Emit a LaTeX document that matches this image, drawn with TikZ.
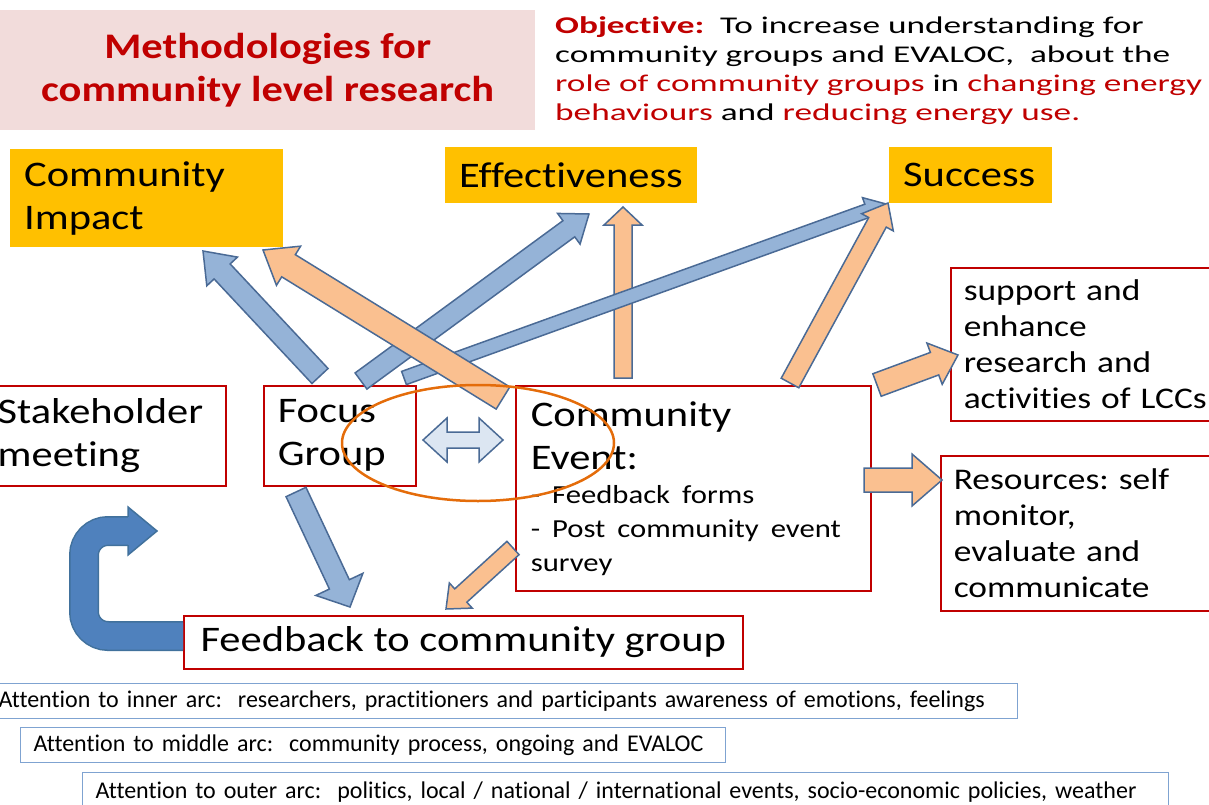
\documentclass[tikz,border=0pt]{standalone}
\usepackage{fontspec}
\setmainfont{Carlito}[FakeStretch=1.18, Ligatures=NoCommon]
\newfontfamily\objfont{Carlito}[FakeStretch=1.47, Ligatures=NoCommon]
\newfontfamily\notefont{Carlito}[Ligatures=NoCommon]
\usetikzlibrary{calc}
\definecolor{darkred}{HTML}{C00000}
\definecolor{titlepink}{HTML}{F2DCDB}
\definecolor{gold}{HTML}{FFC000}
\definecolor{arrowblue}{HTML}{95B3D7}
\definecolor{arroworange}{HTML}{FAC090}
\definecolor{arrowline}{HTML}{4A6A95}
\definecolor{paleblue}{HTML}{DCE6F2}
\definecolor{loopblue}{HTML}{4F81BD}
\definecolor{loopline}{HTML}{41719C}
\definecolor{ringorange}{HTML}{E46C0A}
\definecolor{noteblue}{HTML}{7FA3D1}
\newcommand{\blockarrow}[6]{%
  \path ($(#3)!#6!(#2)$) coordinate (neck);
  \draw[#1] ($(#2)!#4!90:(#3)$) -- ($(neck)!#4!90:(#3)$) -- ($(neck)!#5!90:(#3)$) -- (#3)
    -- ($(neck)!#5!-90:(#3)$) -- ($(neck)!#4!-90:(#3)$) -- ($(#2)!#4!-90:(#3)$) -- cycle;}
\frenchspacing
\begin{document}
\begin{tikzpicture}[x=1pt, y=-1pt,
    bluearrow/.style={fill=arrowblue, draw=arrowline, line width=1.5pt},
    orangearrow/.style={fill=arroworange, draw=arrowline, line width=1.5pt}]
\useasboundingbox (0,0) rectangle (1209,805);
\node[fill=titlepink, anchor=north west, minimum width=535pt, minimum height=120pt, align=center,
    text=darkred, font=\bfseries\fontsize{36}{43}\selectfont] (title) at (0,10) {Methodologies for\\community level research};
\node[anchor=north west, align=left, inner sep=0pt, font=\objfont\fontsize{24}{29}\selectfont] (obj) at (555,16)
    {\textcolor{darkred}{\bfseries Objective:}\ \ To increase understanding for\\
     community groups and EVALOC,\ \ about the\\
     \textcolor{darkred}{role of community groups} in \textcolor{darkred}{changing energy}\\
     \textcolor{darkred}{behaviours} and \textcolor{darkred}{reducing energy use.}};
\begin{scope}[every node/.style={fill=gold, anchor=north west, align=left, inner xsep=14pt, font=\fontsize{36}{43}\selectfont}]
    \node[minimum width=273pt, minimum height=98pt, text width=245pt] (ci) at (10,149) {Community\\Impact};
    \node[minimum width=252pt, minimum height=56pt, text width=224pt] (eff) at (445,147) {Effectiveness};
    \node[minimum width=163pt, minimum height=56pt, text width=135pt] (suc) at (889,147) {Success};
\end{scope}
\begin{scope}[every node/.style={draw=darkred, line width=1.5pt, anchor=north west, align=left, font=\fontsize{36}{43}\selectfont}]
    \node[minimum width=237pt, minimum height=100pt, inner xsep=9pt, text width=219pt] (sh) at (-12,385) {Stakeholder\\meeting};
    \node[minimum width=152pt, minimum height=100pt, inner xsep=14pt, text width=124pt] (fg) at (263,385) {Focus\\Group};
    \node[minimum width=355pt, minimum height=205pt, inner xsep=15pt, text width=325pt] (ce) at (515,385)
        {Community\par Event:\par\fontsize{26}{34}\selectfont - Feedback forms\par - Post community event\par survey\par};
    \node[minimum width=270pt, minimum height=153pt, inner xsep=13pt, text width=244pt, font=\fontsize{30}{36}\selectfont] (sup) at (950,267)
        {support and\\enhance\\research and\\activities of LCCs};
    \node[minimum width=280pt, minimum height=155pt, inner xsep=13pt, text width=254pt, font=\fontsize{30}{36}\selectfont] (res) at (940,455)
        {Resources: self\\monitor,\\evaluate and\\communicate};
    \node[minimum width=559pt, minimum height=53pt, align=center] (fb) at (183,615) {Feedback to community group};
\end{scope}
\begin{scope}[every node/.style={draw=noteblue, line width=1pt, anchor=north west, align=left, minimum height=35pt, font=\notefont\fontsize{24}{28}\selectfont}]
    \node[inner xsep=8pt, text width=1011pt] (n1) at (-10,683) {Attention to inner arc:\ \ researchers, practitioners and participants awareness of emotions, feelings};
    \node[inner xsep=13pt, text width=679pt] (n2) at (20,727) {Attention to middle arc:\ \ community process, ongoing and EVALOC};
    \node[inner xsep=13pt, text width=1060pt, minimum height=40pt] (n3) at (82,772) {Attention to outer arc:\ \ politics, local / national / international events, socio-economic policies, weather};
\end{scope}
\coordinate (fg-ci-s) at (320,376);  \coordinate (fg-ci-e) at (203,251);
\coordinate (fg-eff-s) at (361,381); \coordinate (fg-eff-e) at (589,214);
\coordinate (fg-suc-s) at (404,378); \coordinate (fg-suc-e) at (886,204);
\coordinate (ce-ci-s) at (503,398);  \coordinate (ce-ci-e) at (263,250);
\coordinate (ce-eff-s) at (623,378); \coordinate (ce-eff-e) at (623,207);
\coordinate (ce-suc-s) at (790,383); \coordinate (ce-suc-e) at (888,203);
\coordinate (ce-sup-s) at (877,385); \coordinate (ce-sup-e) at (958,355);
\coordinate (ce-res-s) at (864,480); \coordinate (ce-res-e) at (942,480);
\coordinate (fg-fb-s) at (296,492);  \coordinate (fg-fb-e) at (350,607);
\coordinate (ce-fb-s) at (513,548);  \coordinate (ce-fb-e) at (446,609);
\coordinate (dbl) at (463,440);
\coordinate (loop-s) at (183,636);   \coordinate (loop-e) at (128,531);
\blockarrow{orangearrow}{ce-eff-s}{ce-eff-e}{9pt}{19pt}{18pt}
\blockarrow{bluearrow}{fg-ci-s}{fg-ci-e}{11pt}{21pt}{28pt}
\blockarrow{bluearrow}{fg-eff-s}{fg-eff-e}{10pt}{19pt}{25pt}
\blockarrow{bluearrow}{fg-suc-s}{fg-suc-e}{7pt}{14pt}{20pt}
\blockarrow{orangearrow}{ce-ci-s}{ce-ci-e}{13pt}{23pt}{30pt}
\blockarrow{orangearrow}{ce-suc-s}{ce-suc-e}{10pt}{18pt}{22pt}
\blockarrow{orangearrow}{ce-sup-s}{ce-sup-e}{12pt}{22pt}{25pt}
\blockarrow{orangearrow}{ce-res-s}{ce-res-e}{12pt}{26pt}{30pt}
\blockarrow{bluearrow}{fg-fb-s}{fg-fb-e}{11pt}{26pt}{25pt}
\blockarrow{orangearrow}{ce-fb-s}{ce-fb-e}{9pt}{17pt}{20pt}
\draw[fill=paleblue, draw=arrowline, line width=1.5pt] (dbl) ++(-40,0) -- ++(24,-22) -- ++(0,14) -- ++(32,0) -- ++(0,-14)
    -- ++(24,22) -- ++(-24,22) -- ++(0,-14) -- ++(-32,0) -- ++(0,14) -- cycle;
\draw[draw=loopline, line width=1.5pt, double=loopblue, double distance=27pt, rounded corners=24pt]
    (loop-s) -- ++(-99,0) -- ++(0,-105) -- (loop-e);
\fill[loopblue] (loop-e) ++(0,-24) -- ++(29,24) -- ++(-29,24) -- cycle;
\draw[loopline, line width=1.5pt] (loop-e) ++(0,-14.2) -- ++(0,-9.8) -- ++(29,24) -- ++(-29,24) -- ++(0,-9.8);
\draw[ringorange, line width=2.5pt] (478,443) ellipse [x radius=136pt, y radius=58pt];
\end{tikzpicture}
\end{document}
